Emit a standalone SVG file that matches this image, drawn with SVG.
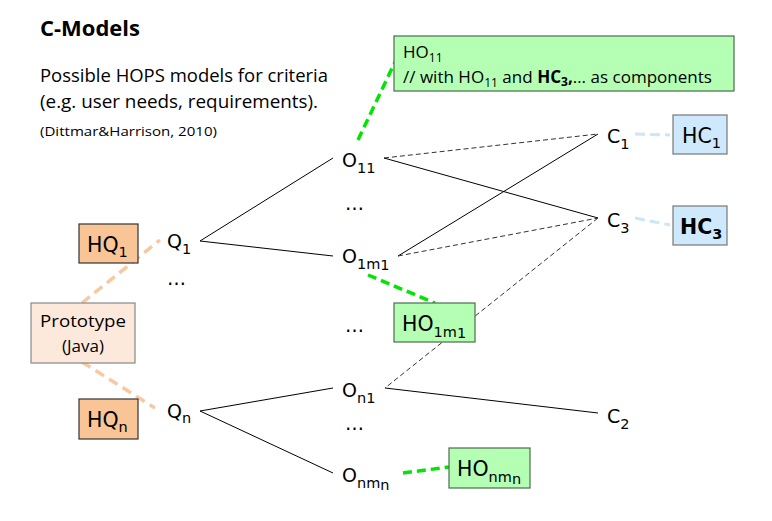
<svg xmlns="http://www.w3.org/2000/svg" width="772" height="521" viewBox="0 0 772 521">
<style>
.t{font-family:"Open Sans","Noto Sans",sans-serif;fill:#000}
.l{font-family:"DejaVu Sans",sans-serif;font-size:19px;fill:#000}
.b{font-size:20.5px}
.s{font-size:14.5px}
.solid{stroke:#000;stroke-width:1;fill:none}
.dash{stroke:#333;stroke-width:1;stroke-dasharray:5,3;fill:none}
.green{stroke:#00e600;stroke-width:3.5;stroke-dasharray:9,5;fill:none}
.orange{stroke:#f8c9a0;stroke-width:3.5;stroke-dasharray:10,6;fill:none}
.blue{stroke:#cce6f6;stroke-width:3;stroke-dasharray:10,5;fill:none}
.hq{fill:#f9c596;stroke:#333;stroke-width:1.2}
.hc{fill:#cde9fb;stroke:#777;stroke-width:1.2}
.ho{fill:#b5ffb5;stroke:#4d6a4d;stroke-width:1.2}
.proto{fill:#fce9dc;stroke:#888;stroke-width:1.2}
</style>
<rect width="772" height="521" fill="#fff"/>
<g id="title">
<text class="t" x="40" y="36" font-size="21" font-weight="bold" textLength="100" lengthAdjust="spacingAndGlyphs">C-Models</text>
<text class="t" x="40" y="82" font-size="18" textLength="288" lengthAdjust="spacingAndGlyphs">Possible HOPS models for criteria</text>
<text class="t" x="40" y="108" font-size="18" textLength="278" lengthAdjust="spacingAndGlyphs">(e.g. user needs, requirements).</text>
<text class="t" x="40" y="136" font-size="13.5" textLength="177" lengthAdjust="spacingAndGlyphs">(Dittmar&amp;Harrison, 2010)</text>
</g>
<g id="connectors">
<line class="solid" x1="200" y1="241" x2="333" y2="158"/>
<line class="solid" x1="200" y1="241" x2="333" y2="256"/>
<line class="solid" x1="200" y1="411" x2="333" y2="388"/>
<line class="solid" x1="200" y1="411" x2="333" y2="473"/>
<line class="dash" x1="384" y1="158" x2="598" y2="134"/>
<line class="solid" x1="384" y1="158" x2="598" y2="218"/>
<line class="solid" x1="398" y1="256" x2="598" y2="134"/>
<line class="dash" x1="398" y1="256" x2="598" y2="218"/>
<line class="dash" x1="598" y1="218" x2="385" y2="388"/>
<line class="solid" x1="385" y1="388" x2="598" y2="413"/>
<line class="green" x1="358" y1="140" x2="395" y2="62"/>
<line class="green" x1="368" y1="275" x2="435" y2="303"/>
<line class="green" x1="403" y1="473" x2="449" y2="467"/>
<line class="orange" x1="82" y1="303" x2="160" y2="240"/>
<line class="orange" x1="82" y1="362" x2="155" y2="408"/>
<line class="blue" x1="635" y1="134" x2="670" y2="135"/>
<line class="blue" x1="635" y1="218" x2="670" y2="225"/>
</g>
<g id="HO11">
<rect class="ho" x="394" y="36" width="340" height="55"/>
<text class="t" x="403" y="58" font-size="17">HO<tspan font-size="12" dy="4">11</tspan></text>
<text class="t" x="403" y="83" font-size="17" textLength="309" lengthAdjust="spacingAndGlyphs">// with  HO<tspan font-size="12" dy="4">11</tspan><tspan dy="-4"> and </tspan><tspan font-weight="bold">HC</tspan><tspan font-weight="bold" font-size="12" dy="3">3</tspan><tspan font-weight="bold" dy="-3">,</tspan><tspan>… as components</tspan></text>
</g>
<g id="O11"><text class="l" x="342" y="167">O<tspan class="s" dy="6">11</tspan></text></g>
<g id="dots1"><text class="l" x="345" y="210">…</text></g>
<g id="O1m1"><text class="l" x="342" y="263">O<tspan class="s" dy="6">1m</tspan><tspan class="s" dy="1">1</tspan></text></g>
<g id="dots2"><text class="l" x="345" y="332">…</text></g>
<g id="On1"><text class="l" x="342" y="397">O<tspan class="s" dy="6">n1</tspan></text></g>
<g id="dots3"><text class="l" x="345" y="430">…</text></g>
<g id="Onmn"><text class="l" x="342" y="482">O<tspan class="s" dy="6">nm</tspan><tspan class="s" dy="2">n</tspan></text></g>
<g id="Q1"><text class="l" x="167" y="248">Q<tspan class="s" dy="6">1</tspan></text></g>
<g id="dotsQ"><text class="l" x="167" y="285">…</text></g>
<g id="Qn"><text class="l" x="167" y="418">Q<tspan class="s" dy="5">n</tspan></text></g>
<g id="C1"><text class="l" x="607" y="143">C<tspan class="s" dy="6">1</tspan></text></g>
<g id="C3"><text class="l" x="607" y="227">C<tspan class="s" dy="6">3</tspan></text></g>
<g id="C2"><text class="l" x="607" y="423">C<tspan class="s" dy="6">2</tspan></text></g>
<g id="HC1">
<rect class="hc" x="673" y="115" width="54" height="39"/>
<text class="l b" x="682" y="143">HC<tspan class="s" dy="5">1</tspan></text>
</g>
<g id="HC3">
<rect class="hc" x="673" y="206" width="54" height="39"/>
<text class="l b" x="680" y="234" font-weight="bold">HC<tspan class="s" dy="5">3</tspan></text>
</g>
<g id="HO1m1">
<rect class="ho" x="394" y="303" width="81" height="39"/>
<text class="l b" x="402" y="331">HO<tspan class="s" dy="6">1m</tspan><tspan class="s" dy="1">1</tspan></text>
</g>
<g id="HOnmn">
<rect class="ho" x="449" y="448" width="81" height="40"/>
<text class="l b" x="457" y="476">HO<tspan class="s" dy="6">nm</tspan><tspan class="s" dy="2">n</tspan></text>
</g>
<g id="HQ1">
<rect class="hq" x="79" y="224" width="59" height="39"/>
<text class="l b" x="87" y="252">HQ<tspan class="s" dy="5">1</tspan></text>
</g>
<g id="HQn">
<rect class="hq" x="79" y="399" width="59" height="40"/>
<text class="l b" x="87" y="427">HQ<tspan class="s" dy="5">n</tspan></text>
</g>
<g id="Prototype">
<rect class="proto" x="31" y="303" width="104" height="60"/>
<text class="t" x="83" y="327" font-size="17" text-anchor="middle" textLength="86" lengthAdjust="spacingAndGlyphs">Prototype</text>
<text class="t" x="83" y="352" font-size="17" text-anchor="middle">(Java)</text>
</g>
</svg>
